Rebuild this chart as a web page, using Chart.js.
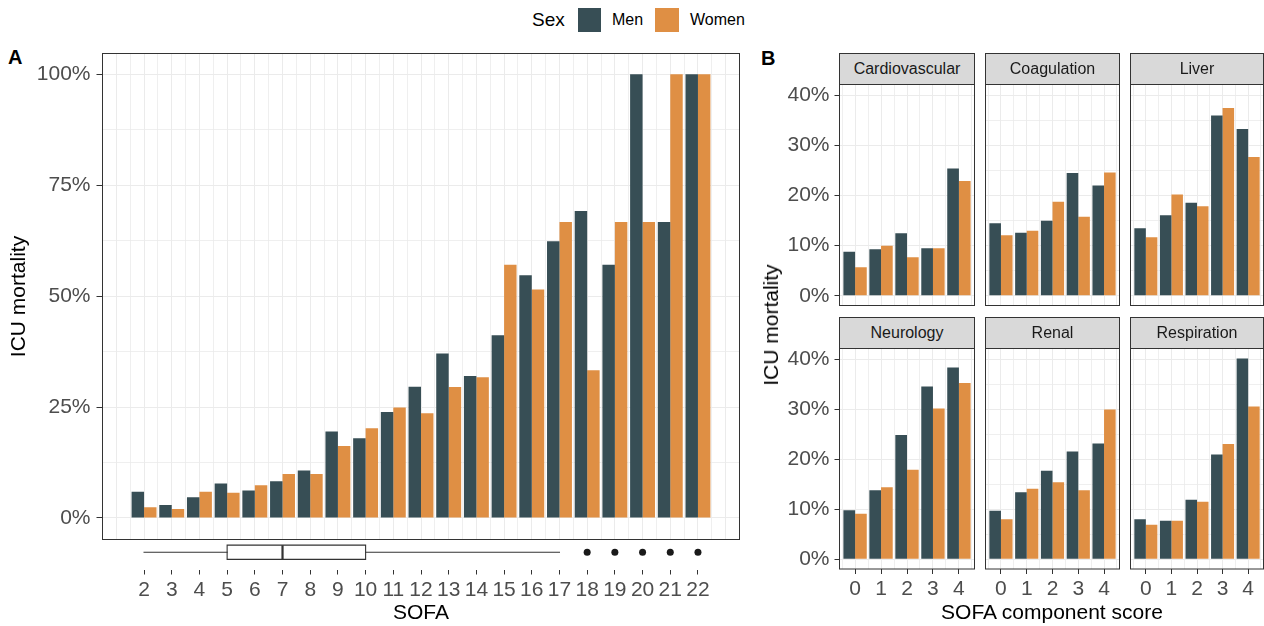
<!DOCTYPE html>
<html>
<head>
<meta charset="utf-8">
<script src="https://cdn.jsdelivr.net/npm/chart.js@4.4.1/dist/chart.umd.min.js"></script>
<style>
  body { margin: 0; background: #fff; font-family: 'Liberation Sans', Arial, sans-serif; }
  #wrap { position: relative; width: 1264px; height: 626px; overflow: hidden; }
  canvas { position: absolute; }
  .txt { position: absolute; white-space: nowrap; line-height: 24px; }
  .key { position: absolute; width: 23.5px; height: 23.5px; }
  .strip { position: absolute; box-sizing: border-box; border: 1px solid #333; background: #d9d9d9;
           color: #1a1a1a; font-size: 16px; display: flex; align-items: center; justify-content: center; }
  .tag { position: absolute; font-weight: bold; font-size: 20px; line-height: 20px; }
</style>
</head>
<body>
<div id="wrap">
  <div class="txt" style="left:532px;top:7.5px;font-size:19px;">Sex</div>
  <div class="key" style="left:577.5px;top:8px;background:#374E55;"></div>
  <div class="txt" style="left:612px;top:7.5px;font-size:16px;">Men</div>
  <div class="key" style="left:655px;top:8px;background:#DF8F44;"></div>
  <div class="txt" style="left:690px;top:7.5px;font-size:16px;">Women</div>

  <div class="tag" style="left:8px;top:47px;">A</div>
  <div class="tag" style="left:761px;top:48px;">B</div>

  <canvas id="panelA" width="745" height="545" style="left:0;top:0;"></canvas>
  <canvas id="boxA" width="745" height="96" style="left:0;top:530px;"></canvas>

  <canvas id="f0" width="215" height="230" style="left:760px;top:80px;"></canvas>
  <canvas id="f1" width="135" height="230" style="left:985px;top:80px;"></canvas>
  <canvas id="f2" width="134" height="230" style="left:1130px;top:80px;"></canvas>
  <canvas id="f3" width="215" height="282" style="left:760px;top:344px;"></canvas>
  <canvas id="f4" width="135" height="282" style="left:985px;top:344px;"></canvas>
  <canvas id="f5" width="134" height="282" style="left:1130px;top:344px;"></canvas>

  <div class="txt" style="left:771px;top:325px;font-size:21px;transform:translate(-50%,-50%) rotate(-90deg);">ICU mortality</div>
  <div class="txt" style="left:1052px;top:612px;font-size:21px;transform:translate(-50%,-50%);">SOFA component score</div>
</div>

<script>
// Panel A: ICU mortality (%) by total SOFA score
const sofa = [2, 3, 4, 5, 6, 7, 8, 9, 10, 11, 12, 13, 14, 15, 16, 17, 18, 19, 20, 21, 22];
const menA = [5.9, 2.9, 4.7, 7.8, 6.2, 8.3, 10.7, 19.5, 18.0, 23.9, 29.6, 37.1, 32.0, 41.2, 54.7, 62.4, 69.2, 57.1, 100, 66.7, 100];
const womenA = [2.4, 2.0, 5.9, 5.7, 7.4, 9.9, 9.9, 16.2, 20.2, 24.9, 23.6, 29.5, 31.7, 57.1, 51.5, 66.7, 33.3, 66.7, 66.7, 100, 100];

// boxplot of SOFA: lower whisker, Q1, median, Q3, upper whisker
const sofaBox = [2, 5, 7, 10, 17];
const sofaOutliers = [18, 19, 20, 21, 22];

// Panel B: ICU mortality (%) by SOFA component score
const scores = [0, 1, 2, 3, 4];
const cardioMen = [8.8, 9.3, 12.5, 9.5, 25.4];
const cardioWomen = [5.7, 10.0, 7.7, 9.5, 22.9];
const coagMen = [14.5, 12.6, 15.0, 24.5, 22.0];
const coagWomen = [12.1, 13.0, 18.8, 15.8, 24.6];
const liverMen = [13.5, 16.1, 18.6, 36.0, 33.3];
const liverWomen = [11.7, 20.2, 17.9, 37.5, 27.7];
const neuroMen = [9.8, 13.8, 24.9, 34.6, 38.4];
const neuroWomen = [9.1, 14.4, 17.9, 30.2, 35.3];
const renalMen = [9.7, 13.4, 17.7, 21.6, 23.2];
const renalWomen = [8.0, 14.1, 15.4, 13.8, 30.0];
const respMen = [8.0, 7.7, 11.9, 21.0, 40.2];
const respWomen = [6.9, 7.7, 11.5, 23.1, 30.6];

const MEN = '#374E55';
const WOMEN = '#DF8F44';
const GRID = '#ebebeb';
const TICK = '#4d4d4d';

Chart.defaults.font.family = "'Liberation Sans', Arial, sans-serif";

function range(a, b, step) {
  const out = [];
  for (let v = a; v <= b + 1e-9; v += step) out.push(+v.toFixed(3));
  return out;
}
function setTicks(values) {
  return scale => { scale.ticks = values.map(v => ({ value: v })); };
}
function noPad(s) { s.paddingLeft = 0; s.paddingRight = 0; s.paddingTop = 0; s.paddingBottom = 0; }

// panel border drawn over the bars
const frame = {
  id: 'frame',
  afterDatasetsDraw(chart) {
    const { ctx, chartArea: a } = chart;
    ctx.save();
    ctx.strokeStyle = '#333';
    ctx.lineWidth = 1;
    ctx.strokeRect(a.left, a.top, a.right - a.left, a.bottom - a.top);
    ctx.restore();
  }
};

function pairs(xs, ys) { return xs.map((x, i) => ({ x: x, y: ys[i] })); }

// ---------- panel A ----------
new Chart(document.getElementById('panelA'), {
  type: 'bar',
  data: {
    datasets: [
      { label: 'Men', data: pairs(sofa, menA), backgroundColor: MEN },
      { label: 'Women', data: pairs(sofa, womenA), backgroundColor: WOMEN }
    ]
  },
  options: {
    responsive: false,
    animation: false,
    layout: { padding: { top: 53.5, right: 5.5, bottom: 5.5, left: 0 } },
    datasets: { bar: { categoryPercentage: 0.9, barPercentage: 1, borderWidth: 0 } },
    plugins: { legend: { display: false }, tooltip: { enabled: false } },
    scales: {
      x: {
        type: 'linear', min: 0.5, max: 23.5, offset: false,
        afterBuildTicks: setTicks(range(1, 23, 1)),
        ticks: { display: false },
        grid: { color: GRID, lineWidth: 1, drawTicks: false, offset: false },
        border: { display: false },
        afterFit: s => { s.height = 0; noPad(s); }
      },
      xMinor: {
        type: 'linear', position: 'bottom', min: 0.5, max: 23.5, offset: false,
        afterBuildTicks: setTicks(range(1.5, 22.5, 1)),
        ticks: { display: false },
        grid: { color: GRID, lineWidth: 0.8, drawTicks: false, offset: false },
        border: { display: false },
        afterFit: s => { s.height = 0; noPad(s); }
      },
      y: {
        min: -4.85, max: 104.7,
        afterBuildTicks: setTicks(range(0, 100, 12.5)),
        ticks: {
          callback: v => (v % 25 === 0 ? v + '%' : ''),
          color: TICK, font: { size: 21 }, padding: 6
        },
        grid: {
          color: GRID,
          lineWidth: c => (c.tick && c.tick.value % 25 === 0 ? 1 : 0.8),
          tickColor: c => (c.tick && c.tick.value % 25 === 0 ? '#333' : 'rgba(0,0,0,0)'),
          tickLength: 6, tickWidth: 1
        },
        border: { display: false },
        title: { display: true, text: 'ICU mortality', color: '#000', font: { size: 21 }, padding: { top: 7, bottom: 0 } },
        afterFit: s => { s.width = 102.5; noPad(s); }
      }
    }
  },
  plugins: [frame]
});

// ---------- boxplot under panel A ----------
const boxHalf = 0.4;
const [bMin, bQ1, bMed, bQ3, bMax] = sofaBox;
const boxLine = { showLine: true, borderColor: '#333', borderWidth: 1.1, pointRadius: 0, fill: false, borderCapStyle: 'square' };
new Chart(document.getElementById('boxA'), {
  type: 'scatter',
  data: {
    datasets: [
      Object.assign({ data: [{ x: bMin, y: 0 }, { x: bQ1, y: 0 }] }, boxLine),
      Object.assign({ data: [{ x: bQ3, y: 0 }, { x: bMax, y: 0 }] }, boxLine),
      Object.assign({ data: [
        { x: bQ1, y: -boxHalf }, { x: bQ3, y: -boxHalf }, { x: bQ3, y: boxHalf },
        { x: bQ1, y: boxHalf }, { x: bQ1, y: -boxHalf }] }, boxLine),
      Object.assign({ data: [{ x: bMed, y: -boxHalf }, { x: bMed, y: boxHalf }] }, boxLine, { borderWidth: 2.2, borderCapStyle: 'butt' }),
      { data: sofaOutliers.map(x => ({ x: x, y: 0 })), pointRadius: 3.5, backgroundColor: '#1a1a1a', borderWidth: 0, showLine: false }
    ]
  },
  options: {
    responsive: false,
    animation: false,
    layout: { padding: { top: 4.5, left: 102.5, right: 5.5, bottom: 0 } },
    plugins: { legend: { display: false }, tooltip: { enabled: false } },
    scales: {
      x: {
        type: 'linear', min: 0.5, max: 23.5,
        afterBuildTicks: setTicks(sofa),
        ticks: { color: TICK, font: { size: 21 }, padding: 3, autoSkip: false, maxRotation: 0 },
        grid: { drawOnChartArea: false, drawTicks: true, tickLength: 4.5, tickColor: '#333', tickWidth: 1 },
        border: { display: false },
        title: { display: true, text: 'SOFA', color: '#000', font: { size: 21 }, padding: { top: 0, bottom: 0 } },
        afterFit: s => { s.height = 56; noPad(s); }
      },
      y: { display: false, min: -1, max: 1 }
    }
  }
});

// ---------- panel B facets ----------
const facets = [
  ['f0', 'Cardiovascular', cardioMen, cardioWomen],
  ['f1', 'Coagulation', coagMen, coagWomen],
  ['f2', 'Liver', liverMen, liverWomen],
  ['f3', 'Neurology', neuroMen, neuroWomen],
  ['f4', 'Renal', renalMen, renalWomen],
  ['f5', 'Respiration', respMen, respWomen]
];

facets.forEach(([id, name, men, women], k) => {
  const col = k % 3, row = Math.floor(k / 3);
  const first = col === 0, bottom = row === 1;
  const canvas = document.getElementById(id);
  const chart = new Chart(canvas, {
    type: 'bar',
    data: {
      datasets: [
        { label: 'Men', data: pairs(scores, men), backgroundColor: MEN },
        { label: 'Women', data: pairs(scores, women), backgroundColor: WOMEN }
      ]
    },
    options: {
      responsive: false,
      animation: false,
      layout: { padding: { top: 4.5, right: 0.5, bottom: bottom ? 0 : 4.5, left: 0 } },
      datasets: { bar: { categoryPercentage: 0.9, barPercentage: 1, borderWidth: 0 } },
      plugins: { legend: { display: false }, tooltip: { enabled: false } },
      scales: {
        x: {
          type: 'linear', min: -0.6, max: 4.6, offset: false,
          afterBuildTicks: setTicks(scores),
          ticks: { display: bottom, color: TICK, font: { size: 21 }, padding: 3, autoSkip: false, maxRotation: 0 },
          grid: { color: GRID, lineWidth: 1, offset: false, drawTicks: bottom, tickLength: 5, tickColor: '#333', tickWidth: 1 },
          border: { display: false },
          afterFit: s => { s.height = bottom ? 57 : 0; noPad(s); }
        },
        xMinor: {
          type: 'linear', position: 'bottom', min: -0.6, max: 4.6, offset: false,
          afterBuildTicks: setTicks(range(-0.5, 4.5, 1)),
          ticks: { display: false },
          grid: { color: GRID, lineWidth: 0.8, drawTicks: false, offset: false },
          border: { display: false },
          afterFit: s => { s.height = 0; noPad(s); }
        },
        y: {
          min: -1.95, max: 42.2,
          afterBuildTicks: setTicks(range(0, 40, 5)),
          ticks: {
            display: first,
            callback: v => (v % 10 === 0 ? v + '%' : ''),
            color: TICK, font: { size: 21 }, padding: 5
          },
          grid: {
            color: GRID,
            lineWidth: c => (c.tick && c.tick.value % 10 === 0 ? 1 : 0.8),
            drawTicks: first, tickLength: 5, tickWidth: 1,
            tickColor: c => (c.tick && c.tick.value % 10 === 0 ? '#333' : 'rgba(0,0,0,0)')
          },
          border: { display: false },
          afterFit: s => { s.width = first ? 79.5 : 0.5; noPad(s); }
        }
      }
    },
    plugins: [frame]
  });

  // facet strip above the panel
  const a = chart.chartArea;
  const strip = document.createElement('div');
  strip.className = 'strip';
  strip.textContent = name;
  strip.style.left = (canvas.offsetLeft + a.left - 0.5) + 'px';
  strip.style.top = (canvas.offsetTop + a.top - 31.5) + 'px';
  strip.style.width = (a.right - a.left + 1) + 'px';
  strip.style.height = '32px';
  document.getElementById('wrap').appendChild(strip);
});
</script>
</body>
</html>
